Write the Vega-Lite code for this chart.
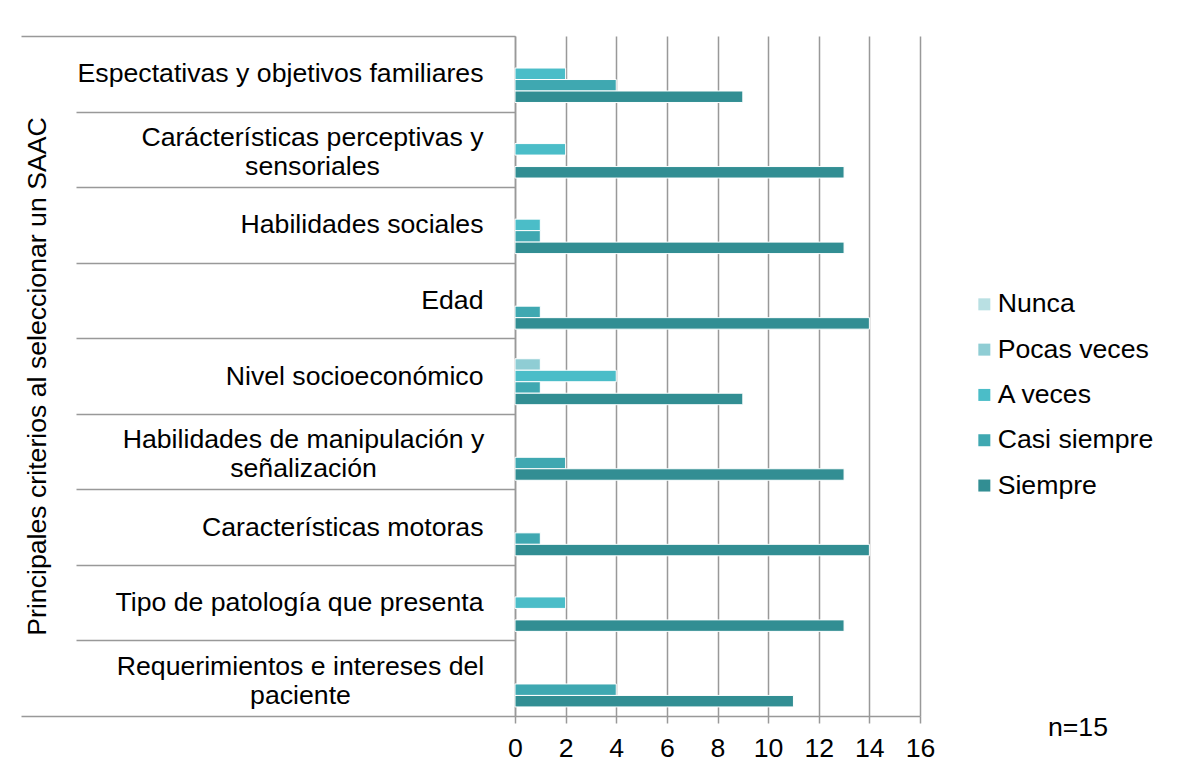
{
  "$schema": "https://vega.github.io/schema/vega-lite/v6.json",
  "width": 405,
  "height": 680,
  "autosize": "none",
  "padding": {"left": 515, "top": 36, "right": 263, "bottom": 58},
  "background": "white",
  "config": {
    "font": "Liberation Sans",
    "view": {"stroke": null}
  },
  "title": {
    "text": "n=15",
    "orient": "bottom",
    "anchor": "end",
    "frame": "group",
    "fontSize": 26.67,
    "fontWeight": "normal",
    "color": "#000000",
    "font": "Liberation Sans",
    "dx": 188,
    "dy": -51
  },
  "data": {
    "values": [
      {"criterio": "Espectativas y objetivos familiares", "frecuencia": "A veces", "n": 2},
      {"criterio": "Espectativas y objetivos familiares", "frecuencia": "Casi siempre", "n": 4},
      {"criterio": "Espectativas y objetivos familiares", "frecuencia": "Siempre", "n": 9},
      {"criterio": "Carácterísticas perceptivas y sensoriales", "frecuencia": "A veces", "n": 2},
      {"criterio": "Carácterísticas perceptivas y sensoriales", "frecuencia": "Siempre", "n": 13},
      {"criterio": "Habilidades sociales", "frecuencia": "A veces", "n": 1},
      {"criterio": "Habilidades sociales", "frecuencia": "Casi siempre", "n": 1},
      {"criterio": "Habilidades sociales", "frecuencia": "Siempre", "n": 13},
      {"criterio": "Edad", "frecuencia": "Casi siempre", "n": 1},
      {"criterio": "Edad", "frecuencia": "Siempre", "n": 14},
      {"criterio": "Nivel socioeconómico", "frecuencia": "Pocas veces", "n": 1},
      {"criterio": "Nivel socioeconómico", "frecuencia": "A veces", "n": 4},
      {"criterio": "Nivel socioeconómico", "frecuencia": "Casi siempre", "n": 1},
      {"criterio": "Nivel socioeconómico", "frecuencia": "Siempre", "n": 9},
      {"criterio": "Habilidades de manipulación y señalización", "frecuencia": "Casi siempre", "n": 2},
      {"criterio": "Habilidades de manipulación y señalización", "frecuencia": "Siempre", "n": 13},
      {"criterio": "Características motoras", "frecuencia": "Casi siempre", "n": 1},
      {"criterio": "Características motoras", "frecuencia": "Siempre", "n": 14},
      {"criterio": "Tipo de patología que presenta", "frecuencia": "A veces", "n": 2},
      {"criterio": "Tipo de patología que presenta", "frecuencia": "Siempre", "n": 13},
      {"criterio": "Requerimientos e intereses del paciente", "frecuencia": "Casi siempre", "n": 4},
      {"criterio": "Requerimientos e intereses del paciente", "frecuencia": "Siempre", "n": 11}
    ]
  },
  "mark": {"type": "bar", "stroke": "white", "strokeWidth": 1},
  "encoding": {
    "y": {
      "field": "criterio",
      "type": "nominal",
      "scale": {
        "domain": [
          "Espectativas y objetivos familiares",
          "Carácterísticas perceptivas y sensoriales",
          "Habilidades sociales",
          "Edad",
          "Nivel socioeconómico",
          "Habilidades de manipulación y señalización",
          "Características motoras",
          "Tipo de patología que presenta",
          "Requerimientos e intereses del paciente"
        ],
        "paddingInner": 0,
        "paddingOuter": 0
      },
      "axis": {
        "title": "Principales criterios al seleccionar un SAAC",
        "titleFont": "Liberation Sans",
        "titleFontSize": 26.67,
        "titleFontWeight": "normal",
        "titleColor": "#000000",
        "titleAngle": 270,
        "titleAlign": "center",
        "titleBaseline": "middle",
        "titleX": -478,
        "titleY": 340,
        "domain": true,
        "domainColor": "#999999",
        "domainWidth": 1.5,
        "ticks": true,
        "tickBand": "extent",
        "tickSize": {
          "condition": {"test": "datum.extra || datum.value == 'Requerimientos e intereses del paciente'", "value": 494},
          "value": 439
        },
        "tickColor": "#999999",
        "tickWidth": 1.5,
        "grid": false,
        "labelFont": "Liberation Sans",
        "labelFontSize": 26.67,
        "labelColor": "#000000",
        "labelLimit": 0,
        "labelOverlap": false,
        "labelLineHeight": 29,
        "labelBaseline": "middle",
        "labelExpr": "datum.value == 'Carácterísticas perceptivas y sensoriales' ? ['Carácterísticas perceptivas y', 'sensoriales'] : datum.value == 'Habilidades de manipulación y señalización' ? ['Habilidades de manipulación y', 'señalización'] : datum.value == 'Requerimientos e intereses del paciente' ? ['Requerimientos e intereses del', 'paciente'] : datum.label",
        "labelAlign": {
          "condition": {
            "test": "datum.value == 'Carácterísticas perceptivas y sensoriales' || datum.value == 'Habilidades de manipulación y señalización' || datum.value == 'Requerimientos e intereses del paciente'",
            "value": "center"
          },
          "value": "right"
        },
        "labelOffset": {
          "condition": {
            "test": "datum.value == 'Carácterísticas perceptivas y sensoriales' || datum.value == 'Habilidades de manipulación y señalización' || datum.value == 'Requerimientos e intereses del paciente'",
            "value": -12
          },
          "value": 0
        },
        "labelPadding": {
          "condition": [
            {"test": "datum.value == 'Carácterísticas perceptivas y sensoriales'", "value": -236},
            {"test": "datum.value == 'Habilidades de manipulación y señalización'", "value": -227},
            {"test": "datum.value == 'Requerimientos e intereses del paciente'", "value": -279}
          ],
          "value": -407
        }
      }
    },
    "yOffset": {
      "field": "frecuencia",
      "type": "nominal",
      "scale": {
        "domain": ["Nunca", "Pocas veces", "A veces", "Casi siempre", "Siempre"],
        "paddingInner": 0,
        "paddingOuter": 0.79
      }
    },
    "x": {
      "field": "n",
      "type": "quantitative",
      "scale": {"domain": [0, 16], "nice": false, "zero": true},
      "axis": {
        "title": null,
        "values": [0, 2, 4, 6, 8, 10, 12, 14, 16],
        "domain": true,
        "domainColor": "#999999",
        "domainWidth": 1.5,
        "ticks": true,
        "tickSize": 7,
        "tickColor": "#999999",
        "tickWidth": 1.5,
        "grid": true,
        "gridColor": "#999999",
        "gridWidth": 1.5,
        "labelFont": "Liberation Sans",
        "labelFontSize": 26.67,
        "labelColor": "#000000",
        "labelPadding": 12,
        "labelFlush": false,
        "labelOverlap": false
      }
    },
    "color": {
      "field": "frecuencia",
      "type": "nominal",
      "scale": {
        "domain": ["Nunca", "Pocas veces", "A veces", "Casi siempre", "Siempre"],
        "range": ["#b9e0e3", "#8fcdd4", "#4bbdc8", "#3fa8b1", "#328e93"]
      },
      "legend": {
        "title": null,
        "orient": "none",
        "legendX": 456,
        "legendY": 255,
        "padding": 0,
        "symbolType": "square",
        "symbolSize": 144,
        "symbolStrokeWidth": 0,
        "labelFont": "Liberation Sans",
        "labelFontSize": 26.67,
        "labelColor": "#000000",
        "labelOffset": 0,
        "labelLimit": 0,
        "rowPadding": 17.3
      }
    }
  }
}
